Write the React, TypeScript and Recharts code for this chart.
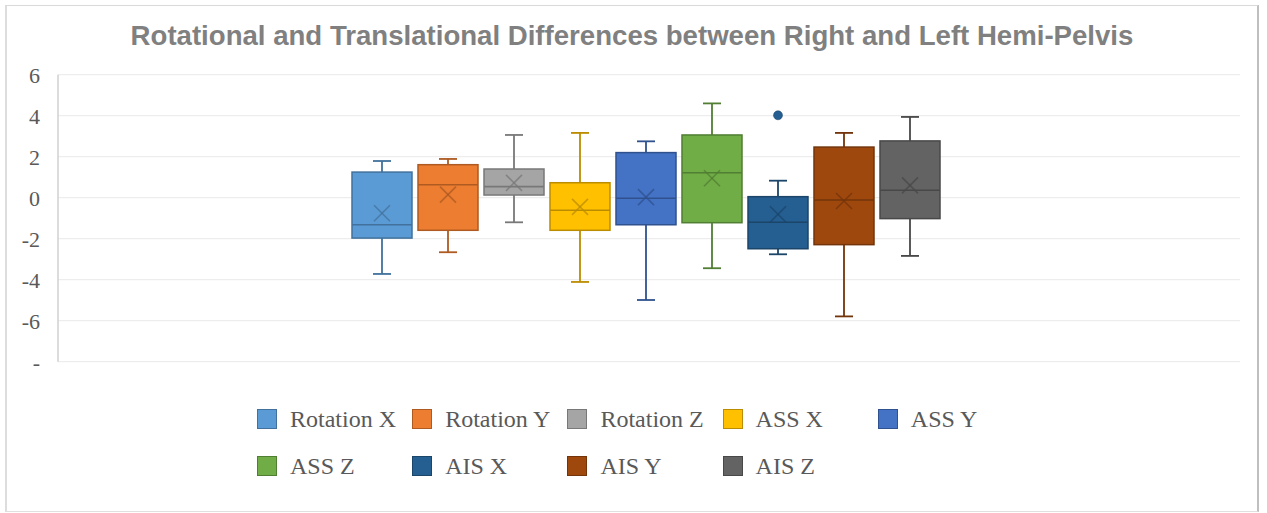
import React from "react";
import { Bar, BarChart, CartesianGrid, XAxis, YAxis } from "recharts";

const seriesNames = [
  "Rotation X",
  "Rotation Y",
  "Rotation Z",
  "ASS X",
  "ASS Y",
  "ASS Z",
  "AIS X",
  "AIS Y",
  "AIS Z",
];

// box plot stats
const whiskerLow = [-3.72, -2.66, -1.2, -4.11, -4.99, -3.44, -2.76, -5.79, -2.84];
const quart1 = [-1.97, -1.59, 0.13, -1.59, -1.32, -1.22, -2.49, -2.29, -1.02];
const medians = [-1.32, 0.63, 0.54, -0.61, -0.03, 1.22, -1.2, -0.11, 0.36];
const quart3 = [1.25, 1.61, 1.4, 0.73, 2.2, 3.06, 0.05, 2.47, 2.77];
const whiskerHigh = [1.79, 1.89, 3.06, 3.16, 2.75, 4.6, 0.83, 3.16, 3.94];
const means = [-0.76, 0.15, 0.72, -0.45, 0.03, 0.95, -0.81, -0.16, 0.6];
const outliers: number[][] = [[], [], [], [], [], [], [4.02], [], []];

const yTicks = [-8, -6, -4, -2, 0, 2, 4, 6];

const fills = ["#5B9BD5", "#ED7D31", "#A5A5A5", "#FFC000", "#4472C4", "#70AD47", "#255E91", "#9E480E", "#636363"];
const strokes = ["#41719C", "#AE5A21", "#787878", "#BC8C00", "#2F528F", "#507E32", "#1B4569", "#73340A", "#484848"];

const chartData = [
  seriesNames.reduce(
    (row, _n, i) => {
      row[`s${i}`] = [quart1[i], quart3[i]];
      return row;
    },
    { name: "all" } as Record<string, any>
  ),
];

function BoxShape(props: any) {
  const { x, y, width, height, idx } = props;
  const top = Math.min(y, y + height);
  const bot = Math.max(y, y + height);
  const pxPer = (bot - top) / (quart3[idx] - quart1[idx]);
  const sy = (v: number) => bot - (v - quart1[idx]) * pxPer;
  const cx = x + width / 2;
  const col = strokes[idx];
  const cap = 9;
  const m = 8;
  const my = sy(means[idx]);
  return (
    <g>
      <line x1={cx} x2={cx} y1={sy(whiskerHigh[idx])} y2={top} stroke={col} strokeWidth={1.8} />
      <line x1={cx} x2={cx} y1={bot} y2={sy(whiskerLow[idx])} stroke={col} strokeWidth={1.8} />
      <line x1={cx - cap} x2={cx + cap} y1={sy(whiskerHigh[idx])} y2={sy(whiskerHigh[idx])} stroke={col} strokeWidth={1.8} />
      <line x1={cx - cap} x2={cx + cap} y1={sy(whiskerLow[idx])} y2={sy(whiskerLow[idx])} stroke={col} strokeWidth={1.8} />
      <rect x={x} y={top} width={width} height={bot - top} fill={fills[idx]} stroke={col} strokeWidth={1.5} />
      <line x1={x} x2={x + width} y1={sy(medians[idx])} y2={sy(medians[idx])} stroke={col} strokeWidth={1.6} />
      <g stroke={col} strokeWidth={1.6} strokeOpacity={0.75}>
        <line x1={cx - m} x2={cx + m} y1={my - m} y2={my + m} />
        <line x1={cx - m} x2={cx + m} y1={my + m} y2={my - m} />
      </g>
      {outliers[idx].map((o, k) => (
        <circle key={k} cx={cx} cy={sy(o)} r={4.5} fill={fills[idx]} stroke={col} strokeWidth={0.5} />
      ))}
    </g>
  );
}

export default function App() {
  return (
    <div
      style={{
        position: "absolute",
        left: 5,
        top: 5,
        width: 1254,
        height: 507,
        boxSizing: "border-box",
        borderTop: "1px solid #D9D9D9",
        borderBottom: "1px solid #E0E0E0",
        borderLeft: "2px solid #DDDDDD",
        borderRight: "2px solid #BFBFBF",
        background: "#fff",
      }}
    >
      <div
        style={{
          position: "absolute",
          left: 0,
          top: 14.4,
          width: 1250,
          textAlign: "center",
          fontFamily: "'Liberation Sans', Arial, sans-serif",
          fontWeight: 700,
          fontSize: 27.6,
          lineHeight: "32px",
          color: "#808080",
          whiteSpace: "nowrap",
        }}
      >
        Rotational and Translational Differences between Right and Left Hemi-Pelvis
      </div>

      <div style={{ position: "absolute", left: 0, top: 0 }}>
        <BarChart
          width={1250}
          height={400}
          data={chartData}
          margin={{ top: 68.7, right: 17, bottom: 44.3, left: 0 }}
          barSize={60}
          barGap={6}
        >
          <CartesianGrid horizontal vertical={false} stroke="#EDEDED" strokeWidth={1.3} />
          <XAxis dataKey="name" hide padding={{ left: 0, right: 7 }} />
          <YAxis
            domain={[-8, 6]}
            ticks={yTicks}
            interval={0}
            width={51}
            tickSize={0}
            tickMargin={18}
            tickLine={false}
            axisLine={{ stroke: "#D0D0D0", strokeWidth: 1.5 }}
            tick={{ fill: "#595959", fontSize: 22, fontFamily: "'Liberation Serif', 'Times New Roman', serif" }}
            tickFormatter={(v) => (Number(v) === -8 ? "-" : String(v))}
          />
          {seriesNames.map((n, i) => (
            <Bar
              key={n}
              dataKey={`s${i}`}
              name={n}
              fill={fills[i]}
              isAnimationActive={false}
              shape={(p: any) => <BoxShape {...p} idx={i} />}
            />
          ))}
        </BarChart>
      </div>

      {seriesNames.map((n, i) => {
        const row = i < 5 ? 0 : 1;
        const col = i < 5 ? i : i - 5;
        return (
          <div
            key={n}
            style={{
              position: "absolute",
              left: 250 + col * 155.2,
              top: row === 0 ? 399 : 446,
              height: 28,
              display: "flex",
              alignItems: "center",
              fontFamily: "'Liberation Serif', 'Times New Roman', serif",
              fontSize: 24,
              lineHeight: "28px",
              color: "#595959",
              whiteSpace: "nowrap",
            }}
          >
            <span
              style={{
                display: "inline-block",
                width: 20,
                height: 20,
                boxSizing: "border-box",
                background: fills[i],
                border: `1px solid ${strokes[i]}`,
                marginRight: 13,
              }}
            />
            {n}
          </div>
        );
      })}
    </div>
  );
}
